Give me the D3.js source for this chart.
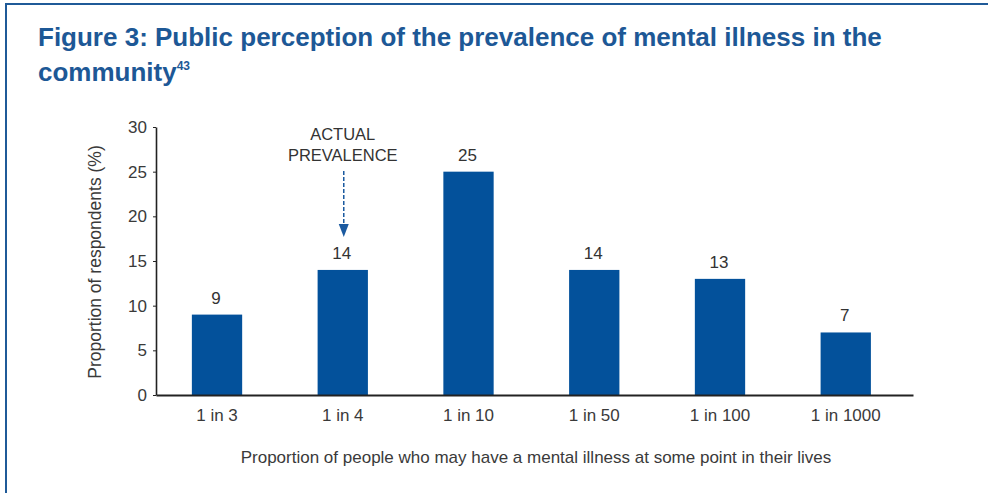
<html>
    <style>
        body { margin: 0; background: #fff; }
        text { font-family: "Liberation Sans", Arial, Helvetica, sans-serif; }
    </style>
    <body>
        <div id="chart"><svg></svg></div>
    </body>
    <script src="https://d3js.org/d3.v7.min.js"></script>
    <script>
    // data
    var categories = ["1 in 3", "1 in 4", "1 in 10", "1 in 50", "1 in 100", "1 in 1000"]
    var values = [9, 14, 25, 14, 13, 7]
    var yTicks = [0, 5, 10, 15, 20, 25, 30]
    var actualCategory = "1 in 4"

    var screen = {width: 988, height: 493}
    var plot = {left: 156, right: 913, top: 127, bottom: 395}
    var blue = "#03519b"

    var svg = d3.select("#chart svg")
                .attr("width", screen.width)
                .attr("height", screen.height)

    // frame: top and left rules only
    svg.append("path")
        .attr("d", "M6,493 V4 H988")
        .attr("fill", "none")
        .attr("stroke", "#1f5a98")
        .attr("stroke-width", 2)

    // title
    var title = svg.append("g").attr("fill", "#1d5896")
        .style("font-weight", "bold").style("font-size", "26px")
    title.append("text").attr("x", 38).attr("y", 46)
        .text("Figure 3: Public perception of the prevalence of mental illness in the")
    var t2 = title.append("text").attr("x", 38).attr("y", 81).text("community")
    t2.append("tspan").attr("dy", -11).style("font-size", "12px").text("43")

    var xScale = d3.scaleBand()
                    .domain(categories)
                    .range([plot.left, plot.right])
                    .paddingInner(0.6)
                    .paddingOuter(0.31)
                    .align(0.46)
    var yScale = d3.scaleLinear()
                    .domain([0, 30])
                    .range([plot.bottom, plot.top])

    // bars
    svg.append("g")
        .selectAll("rect")
        .data(values)
        .enter()
        .append("rect")
        .attr("x", function(d, i){return xScale(categories[i])})
        .attr("y", function(d){return yScale(d)})
        .attr("width", xScale.bandwidth())
        .attr("height", function(d){return yScale(0) - yScale(d)})
        .attr("fill", blue)

    // value labels
    svg.append("g")
        .selectAll("text")
        .data(values)
        .enter()
        .append("text")
        .attr("x", function(d, i){return xScale(categories[i]) + xScale.bandwidth()/2 - 1})
        .attr("y", function(d){return yScale(d) - 11})
        .attr("text-anchor", "middle")
        .attr("fill", "#333")
        .style("font-size", "17px")
        .text(function(d){return d})

    // y axis
    var yAxis = svg.append("g")
        .attr("transform", "translate(" + plot.left + ",0)")
        .call(d3.axisLeft(yScale).tickValues(yTicks).tickSize(3).tickSizeOuter(0).tickPadding(6))
    yAxis.select(".domain").attr("stroke", "#222").attr("stroke-width", 1.6)
    yAxis.selectAll(".tick line").attr("stroke", "#222")
    yAxis.selectAll(".tick text").attr("fill", "#3a3a3a").style("font-size", "17px")
        .style("font-family", "'Liberation Sans', Arial, sans-serif")

    // x axis
    var xAxis = svg.append("g")
        .attr("transform", "translate(0," + plot.bottom + ")")
        .call(d3.axisBottom(xScale).tickSize(0).tickSizeOuter(0).tickPadding(14))
    xAxis.select(".domain").attr("stroke", "#222").attr("stroke-width", 2)
    xAxis.selectAll(".tick text").attr("fill", "#3a3a3a").style("font-size", "17px")
        .style("font-family", "'Liberation Sans', Arial, sans-serif")

    // axis titles
    svg.append("text")
        .attr("transform", "translate(101," + ((plot.top + plot.bottom)/2 + 1) + ") rotate(-90)")
        .attr("text-anchor", "middle")
        .attr("fill", "#3a3a3a")
        .style("font-size", "17.5px")
        .text("Proportion of respondents (%)")
    svg.append("text")
        .attr("x", 536)
        .attr("y", 463)
        .attr("text-anchor", "middle")
        .attr("fill", "#3a3a3a")
        .style("font-size", "17px")
        .text("Proportion of people who may have a mental illness at some point in their lives")

    // actual prevalence annotation
    var ax = xScale(actualCategory) + xScale.bandwidth()/2 + 1
    var av = values[categories.indexOf(actualCategory)]
    var note = svg.append("g").attr("fill", "#333").style("font-size", "16.5px").attr("text-anchor", "middle")
    note.append("text").attr("x", ax - 1).attr("y", 140).text("ACTUAL")
    note.append("text").attr("x", ax - 1).attr("y", 161).text("PREVALENCE")
    var tipY = yScale(av) - 33
    svg.append("line")
        .attr("x1", ax).attr("x2", ax)
        .attr("y1", 171).attr("y2", tipY - 10)
        .attr("stroke", "#1b5aa0")
        .attr("stroke-width", 1.5)
        .attr("stroke-dasharray", "4,2")
    svg.append("path")
        .attr("d", "M" + (ax - 5) + "," + (tipY - 13) + " L" + (ax + 5) + "," + (tipY - 13) + " L" + ax + "," + tipY + " Z")
        .attr("fill", "#1b5aa0")
    </script>
</html>
